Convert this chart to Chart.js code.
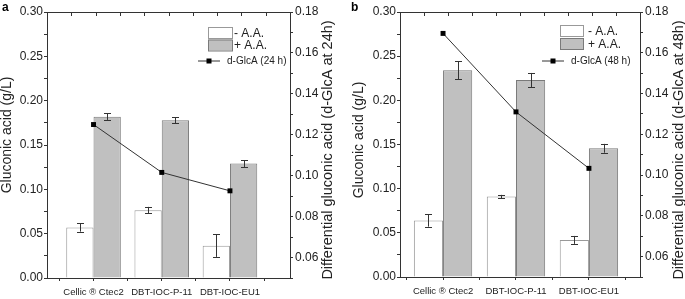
<!DOCTYPE html>
<html>
<head>
<meta charset="utf-8">
<script src="https://cdn.jsdelivr.net/npm/chart.js@4.4.0/dist/chart.umd.min.js"></script>
<style>
  body { margin: 0; background: #fff; font-family: "Liberation Sans", Arial, sans-serif; }
  .panel { position: absolute; top: 0; height: 299px; }
  .tag { position: absolute; font-weight: bold; font-size: 12px; color: #000; }
</style>
</head>
<body>
<div class="panel" style="left:0;width:342px"><canvas id="chartA"></canvas></div>
<div class="panel" style="left:342px;width:343px"><canvas id="chartB"></canvas></div>
<div class="tag" style="left:2px;top:0px">a</div>
<div class="tag" style="left:351px;top:0px">b</div>
<script>
// data
const categories = ['Cellic ® Ctec2', 'DBT-IOC-P-11', 'DBT-IOC-EU1'];

const minusAA24 = [0.057, 0.0765, 0.0365];
const minusAA24Err = [0.0047, 0.0037, 0.0127];
const plusAA24 = [0.182, 0.178, 0.129];
const plusAA24Err = [0.0037, 0.0033, 0.0038];
const dGlcA24 = [0.125, 0.1016, 0.0926];

const minusAA48 = [0.064, 0.091, 0.042];
const minusAA48Err = [0.007, 0.002, 0.0045];
const plusAA48 = [0.234, 0.223, 0.1457];
const plusAA48Err = [0.010, 0.008, 0.005];
const dGlcA48 = [0.1695, 0.131, 0.1033];

const leftTickLabels = ['0.00', '0.05', '0.10', '0.15', '0.20', '0.25', '0.30'];
const rightTickLabels = ['0.06', '0.08', '0.10', '0.12', '0.14', '0.16', '0.18'];

Chart.defaults.font.family = '"Liberation Sans", Arial, sans-serif';
Chart.defaults.color = '#222';

const axisColor = '#333';

function pts(arr) {
  return arr.map(function(v, i) { return {x: i + 1, y: v}; });
}

function makeChart(id, d) {
  const framePlugin = {
    id: 'frame',
    afterDraw: function(chart) {
      const ctx = chart.ctx;
      const a = chart.chartArea;
      ctx.save();
      ctx.strokeStyle = axisColor;
      ctx.lineWidth = 1;
      ctx.beginPath();
      ctx.moveTo(a.left, a.top + 0.5);
      ctx.lineTo(a.right, a.top + 0.5);
      // inward ticks on top edge
      for (let i = 1; i < 10; i++) {
        const x = Math.round(a.left + (a.right - a.left) * i / 10) + 0.5;
        ctx.moveTo(x, a.top);
        ctx.lineTo(x, a.top + 4);
      }
      ctx.stroke();

      // axis titles
      ctx.fillStyle = '#222';
      ctx.textAlign = 'center';
      ctx.textBaseline = 'middle';
      ctx.font = '14px "Liberation Sans", Arial, sans-serif';
      ctx.save();
      ctx.translate(d.leftTitleX, d.leftTitleY);
      ctx.rotate(-Math.PI / 2);
      ctx.fillText('Gluconic acid (g/L)', 0, 0);
      ctx.restore();
      ctx.font = '14.5px "Liberation Sans", Arial, sans-serif';
      ctx.save();
      ctx.translate(d.rightTitleX, d.rightTitleY);
      ctx.rotate(-Math.PI / 2);
      ctx.fillText(d.rightTitle, 0, 0);
      ctx.restore();

      // legend
      const L = d.legend;
      const r = a.right;
      ctx.lineWidth = 1;
      ctx.fillStyle = '#fff';
      ctx.strokeStyle = '#999';
      ctx.fillRect(r - L.boxX, L.box1Y, L.boxW, L.boxH);
      ctx.strokeRect(r - L.boxX + 0.5, L.box1Y + 0.5, L.boxW, L.boxH);
      ctx.fillStyle = '#c0c0c0';
      ctx.strokeStyle = '#7a7a7a';
      ctx.fillRect(r - L.boxX, L.box2Y, L.boxW, L.boxH);
      ctx.strokeRect(r - L.boxX + 0.5, L.box2Y + 0.5, L.boxW, L.boxH);
      ctx.fillStyle = '#222';
      ctx.textAlign = 'left';
      ctx.font = '12px "Liberation Sans", Arial, sans-serif';
      ctx.fillText(chart.data.datasets[0].label, r - L.textX, L.box1Y + L.boxH / 2 + 1);
      ctx.fillText(chart.data.datasets[1].label, r - L.textX, L.box2Y + L.boxH / 2 + 1);
      ctx.strokeStyle = '#333';
      ctx.beginPath();
      ctx.moveTo(r - L.lineX1, L.lineY + 0.5);
      ctx.lineTo(r - L.lineX2, L.lineY + 0.5);
      ctx.stroke();
      ctx.fillStyle = '#000';
      ctx.fillRect(r - (L.lineX1 + L.lineX2) / 2 - 2.5, L.lineY - 2, 5, 5);
      ctx.fillStyle = '#222';
      ctx.font = '10px "Liberation Sans", Arial, sans-serif';
      ctx.fillText(chart.data.datasets[2].label, r - L.lineTextX, L.lineY + 1);
      ctx.restore();
    }
  };

  const errorBarPlugin = {
    id: 'errorBars',
    afterDatasetsDraw: function(chart) {
      const ctx = chart.ctx;
      const yScale = chart.scales.y;
      ctx.save();
      ctx.strokeStyle = '#333';
      ctx.lineWidth = 1;
      chart.data.datasets.forEach(function(ds, di) {
        if (!ds.errors) return;
        const meta = chart.getDatasetMeta(di);
        meta.data.forEach(function(el, i) {
          const v = ds.data[i].y;
          const e = ds.errors[i];
          const x = Math.round(el.x) + 0.5;
          const yTop = yScale.getPixelForValue(v + e);
          const yBot = yScale.getPixelForValue(v - e);
          ctx.beginPath();
          ctx.moveTo(x, yTop);
          ctx.lineTo(x, yBot);
          ctx.moveTo(x - 3.5, Math.round(yTop) + 0.5);
          ctx.lineTo(x + 3.5, Math.round(yTop) + 0.5);
          ctx.moveTo(x - 3.5, Math.round(yBot) + 0.5);
          ctx.lineTo(x + 3.5, Math.round(yBot) + 0.5);
          ctx.stroke();
        });
      });
      ctx.restore();
    }
  };

  // bar width is measured against the 0.5 tick spacing on the linear x axis,
  // so categoryPercentage > 1 gives 80% of one category
  return new Chart(document.getElementById(id), {
    type: 'bar',
    data: {
      datasets: [
        {
          label: '- A.A.',
          data: pts(d.minus),
          errors: d.minusErr,
          backgroundColor: '#ffffff',
          borderColor: '#999999',
          borderWidth: 1,
          categoryPercentage: 1.6,
          barPercentage: 1.0,
          order: 1
        },
        {
          label: '+ A.A.',
          data: pts(d.plus),
          errors: d.plusErr,
          backgroundColor: '#c0c0c0',
          borderColor: '#7a7a7a',
          borderWidth: 1,
          categoryPercentage: 1.6,
          barPercentage: 1.0,
          order: 1
        },
        {
          type: 'line',
          label: d.lineLabel,
          data: pts(d.line),
          yAxisID: 'y2',
          borderColor: '#333',
          borderWidth: 1,
          pointStyle: 'rect',
          pointRadius: 3.5,
          pointBackgroundColor: '#000',
          pointBorderColor: '#000',
          pointBorderWidth: 0,
          tension: 0,
          order: 0
        }
      ]
    },
    options: {
      responsive: true,
      maintainAspectRatio: false,
      animation: false,
      layout: { padding: { top: 12, left: 0, right: 0, bottom: 0 } },
      plugins: { legend: { display: false }, tooltip: { enabled: false } },
      scales: {
        x: {
          type: 'linear',
          min: d.xMin,
          max: d.xMax,
          offset: false,
          grid: { drawOnChartArea: false, offset: false, tickLength: 3, color: axisColor },
          border: { color: axisColor },
          ticks: {
            stepSize: 0.5,
            includeBounds: false,
            autoSkip: false,
            maxRotation: 0,
            padding: 6,
            font: { size: 9.5 },
            callback: function(v) { return Number.isInteger(v) ? categories[v - 1] : ''; }
          },
          afterFit: function(s) { s.height = d.xH; }
        },
        y: {
          position: 'left',
          min: 0,
          max: 0.3,
          grid: { drawOnChartArea: false, tickLength: 3, color: axisColor },
          border: { color: axisColor },
          ticks: {
            stepSize: 0.025,
            autoSkip: false,
            padding: 1,
            font: { size: 12 },
            callback: function(v) {
              const k = Math.round(v * 20);
              return Math.abs(v * 20 - k) < 1e-6 ? leftTickLabels[k] : '';
            }
          },
          afterFit: function(s) { s.width = d.leftW; }
        },
        y2: {
          position: 'right',
          min: 0.05,
          max: 0.18,
          grid: { drawOnChartArea: false, tickLength: 3, color: axisColor },
          border: { color: axisColor },
          ticks: {
            stepSize: 0.01,
            autoSkip: false,
            padding: 2,
            font: { size: 12 },
            callback: function(v) {
              const k = Math.round(v * 50);
              return Math.abs(v * 50 - k) < 1e-6 && k >= 3 ? rightTickLabels[k - 3] : '';
            }
          },
          afterFit: function(s) { s.width = d.rightW; }
        }
      }
    },
    plugins: [errorBarPlugin, framePlugin]
  });
}

makeChart('chartA', {
  minus: minusAA24, minusErr: minusAA24Err,
  plus: plusAA24, plusErr: plusAA24Err,
  line: dGlcA24, lineLabel: 'd-GlcA (24 h)',
  rightTitle: 'Differential gluconic acid (d-GlcA at 24h)',
  xMin: 0.318, xMax: 3.88,
  leftW: 47, rightW: 52, xH: 21,
  leftTitleX: 7, leftTitleY: 135, rightTitleX: 328, rightTitleY: 150,
  legend: { boxX: 82, boxW: 24, boxH: 11, box1Y: 27, box2Y: 39.5, textX: 56,
            lineX1: 92, lineX2: 70, lineY: 60.5, lineTextX: 63 }
});

makeChart('chartB', {
  minus: minusAA48, minusErr: minusAA48Err,
  plus: plusAA48, plusErr: plusAA48Err,
  line: dGlcA48, lineLabel: 'd-GlcA (48 h)',
  rightTitle: 'Differential gluconic acid (d-GlcA at 48h)',
  xMin: 0.41, xMax: 3.7,
  leftW: 58, rightW: 45, xH: 22,
  leftTitleX: 17.5, leftTitleY: 140, rightTitleX: 337, rightTitleY: 150,
  legend: { boxX: 80, boxW: 23, boxH: 11, box1Y: 25, box2Y: 38, textX: 52,
            lineX1: 98, lineX2: 76, lineY: 60.5, lineTextX: 69 }
});
</script>
</body>
</html>
